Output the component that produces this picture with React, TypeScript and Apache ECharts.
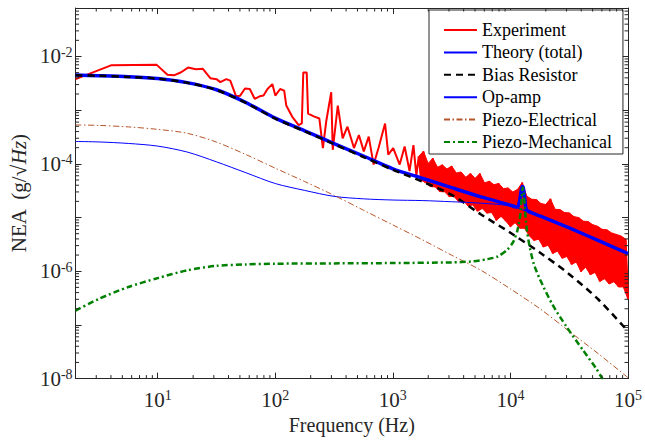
import React, { useEffect, useRef } from 'react';
import * as echarts from 'echarts';

const FONT = 'Liberation Serif, Times New Roman, serif';
const AXIS_COLOR = '#262626';

// Series names
const seriesNames = ['Experiment', 'Theory (total)', 'Bias Resistor', 'Op-amp', 'Piezo-Electrical', 'Piezo-Mechanical'];

// Common frequency grid (Hz) for the smooth model curves
const gridFreq = [2, 3.16, 5.62, 10, 17.8, 31.6, 56.2, 100, 178, 316, 562, 1000, 1778, 3162, 5623, 10000, 17783, 31623, 56234, 100000];

const biasResistor = [4.48e-3, 4.36e-3, 4.17e-3, 3.86e-3, 3.23e-3, 2.38e-3, 1.37e-3, 6.98e-4, 4.04e-4, 2.33e-4, 1.34e-4, 7.76e-5, 4.68e-5, 2.64e-5, 1.14e-5, 5.2e-6, 2.23e-6, 8.81e-7, 2.94e-7, 7.6e-8];
const opAmp = [2.61e-4, 2.56e-4, 2.4e-4, 2.14e-4, 1.66e-4, 1.09e-4, 6.84e-5, 4.3e-5, 3.2e-5, 2.48e-5, 2.23e-5, 2.12e-5, 2.07e-5, 1.97e-5, 1.85e-5, 1.63e-5, 1.05e-5, 6.3e-6, 3.65e-6, 2.1e-6];
const piezoElectrical = [5.31e-4, 5.2e-4, 4.88e-4, 4.39e-4, 3.71e-4, 2.54e-4, 1.49e-4, 8.3e-5, 4.68e-5, 2.59e-5, 1.37e-5, 7.28e-6, 3.86e-6, 1.99e-6, 1.04e-6, 4.68e-7, 2.01e-7, 7.6e-8, 2.88e-8, 1.04e-8];

// Theory (total)
const theoryFreq = [2, 3.16, 5.62, 10, 17.8, 31.6, 56.2, 100, 178, 316, 562, 1000, 1778, 3162, 5623, 10000, 11200, 11660, 12000, 12350, 12600, 12850, 13200, 13600, 14100, 17783, 31623, 56234, 100000];
const theory = [4.51e-3, 4.39e-3, 4.2e-3, 3.89e-3, 3.26e-3, 2.4e-3, 1.39e-3, 7.1e-4, 4.12e-4, 2.39e-4, 1.4e-4, 8.1e-5, 5.4e-5, 3.6e-5, 2.42e-5, 1.7e-5, 1.58e-5, 1.63e-5, 2.09e-5, 3.2e-5, 3.78e-5, 3.63e-5, 2.38e-5, 1.43e-5, 1.32e-5, 1.07e-5, 6.41e-6, 3.71e-6, 2.14e-6];

// Piezo-Mechanical
const pmFreq = [2, 3.16, 5.62, 10, 17.8, 31.6, 56.2, 100, 316, 1000, 3162, 4640, 6190, 7790, 9440, 10590, 11440, 12120, 12470, 12710, 12960, 13340, 13870, 14680, 15850, 17780, 22800, 29850, 41370, 53090, 60700, 77900];
const piezoMechanical = [1.85e-7, 3.06e-7, 5.08e-7, 7.45e-7, 1.04e-6, 1.26e-6, 1.34e-6, 1.38e-6, 1.4e-6, 1.42e-6, 1.46e-6, 1.52e-6, 1.66e-6, 1.88e-6, 2.54e-6, 3.55e-6, 5.65e-6, 1.11e-5, 2.38e-5, 3.63e-5, 2.94e-5, 1.26e-5, 5.42e-6, 2.64e-6, 1.34e-6, 7.13e-7, 2.38e-7, 9.38e-8, 3.4e-8, 1.59e-8, 1e-8, 5.1e-9];

// Experiment: low-frequency part
const expFreqLow = [2, 4, 9.8, 12.1, 13.9, 15.8, 18.1, 21.1, 24.2, 28.0, 31.6, 34.1, 38.3, 41.4, 46.4, 50.1, 55.2, 60.7, 66.8, 73.6, 79.4, 85.8, 94.4, 100, 110, 119, 124, 139, 158, 168, 173, 185, 190, 215, 237, 254, 271, 299, 308, 340, 374, 411, 467, 514, 566, 623, 686, 755, 858, 914, 1006, 1143, 1259, 1386, 1496, 1585];
const expValLow = [3.79e-3, 6.84e-3, 6.98e-3, 4.58e-3, 4.48e-3, 5.08e-3, 6.21e-3, 5.77e-3, 5.9e-3, 3.94e-3, 3.78e-3, 3.33e-3, 3.78e-3, 3.55e-3, 1.81e-3, 1.85e-3, 2.54e-3, 2.48e-3, 1.63e-3, 1.81e-3, 1.87e-3, 2.48e-3, 3.06e-3, 1.87e-3, 2.48e-3, 2.31e-3, 1.22e-3, 7.6e-4, 5.26e-4, 5.65e-4, 5.02e-3, 5.02e-3, 8.63e-4, 7.6e-4, 6.98e-4, 1.97e-4, 6.15e-4, 2.16e-3, 1.83e-4, 1.22e-3, 3.0e-4, 4.92e-4, 1.97e-4, 3.45e-4, 1.71e-4, 3.22e-4, 9.7e-5, 1.97e-4, 5.65e-4, 1.48e-4, 1.97e-4, 9.7e-5, 2.11e-4, 7.35e-5, 2.23e-4, 6.03e-5];

// Experiment: dense noisy high-frequency part (alternating peaks / troughs)
const expFreqHigh = [1660, 1738, 1820, 1905, 1995, 2089, 2188, 2291, 2399, 2512, 2630, 2754, 2884, 3020, 3162, 3311, 3467, 3631, 3802, 3981, 4169, 4365, 4571, 4786, 5012, 5248, 5495, 5754, 6026, 6310, 6607, 6918, 7244, 7586, 7943, 8318, 8710, 9120, 9550, 10000, 10470, 10960, 11480, 12020, 12590, 13180, 13800, 14450, 15140, 15850, 16600, 17380, 18200, 19050, 19950, 20890, 21880, 22910, 23990, 25120, 26300, 27540, 28840, 30200, 31620, 33110, 34670, 36310, 38020, 39810, 41690, 43650, 45710, 47860, 50120, 52480, 54950, 57540, 60260, 63100, 66070, 69180, 72440, 75860, 79430, 83180, 87100, 91200, 95500, 100000];
const expValHigh = [1.38e-4, 5.0e-5, 1.72e-4, 4.4e-5, 1.02e-4, 3.78e-5, 1.27e-4, 3.72e-5, 8.65e-5, 3.05e-5,
  9.57e-5, 3.01e-5, 8.02e-5, 2.46e-5, 9.08e-5, 2.47e-5, 6.75e-5, 1.97e-5, 7.06e-5, 2.06e-5,
  5.62e-5, 1.64e-5, 6.61e-5, 1.72e-5, 5.38e-5, 1.31e-5, 6.62e-5, 1.47e-5, 4.41e-5, 1.21e-5,
  4.76e-5, 1.24e-5, 4.08e-5, 8.87e-6, 4.32e-5, 1.05e-5, 3.46e-5, 8.61e-6, 3.56e-5, 6.75e-6,
  3.0e-5, 8.04e-6, 3.33e-5, 6.31e-6, 4.48e-5, 6.31e-6, 2.49e-5, 4.57e-6, 2.2e-5, 3.75e-6,
  2.16e-5, 3.95e-6, 1.82e-5, 2.82e-6, 1.75e-5, 3.06e-6, 2.23e-5, 2.14e-6, 1.42e-5, 2.37e-6,
  1.41e-5, 1.74e-6, 1.24e-5, 1.88e-6, 1.22e-5, 1.34e-6, 1.04e-5, 1.48e-6, 1.0e-5, 9.82e-7,
  8.57e-6, 1.19e-6, 8.41e-6, 8.63e-7, 7.36e-6, 9.51e-7, 6.9e-6, 6.44e-7, 6.03e-6, 7.26e-7,
  5.92e-6, 5.79e-7, 5.18e-6, 6.38e-7, 4.85e-6, 5.08e-7, 4.54e-6, 5.11e-7, 3.97e-6, 3.02e-7];

// Axis ranges and minor tick positions
const xMin = 2;
const xMax = 1e5;
const yMin = 1e-8;
const yMax = 0.08;
const xMinorTicks = [3, 4, 5, 6, 7, 8, 9, 20, 30, 40, 50, 60, 70, 80, 90, 200, 300, 400, 500, 600, 700, 800, 900, 2000, 3000, 4000, 5000, 6000, 7000, 8000, 9000, 20000, 30000, 40000, 50000, 60000, 70000, 80000, 90000];
const yMinorTicks = [
  2e-8, 3e-8, 4e-8, 5e-8, 6e-8, 7e-8, 8e-8, 9e-8,
  2e-7, 3e-7, 4e-7, 5e-7, 6e-7, 7e-7, 8e-7, 9e-7,
  2e-6, 3e-6, 4e-6, 5e-6, 6e-6, 7e-6, 8e-6, 9e-6,
  2e-5, 3e-5, 4e-5, 5e-5, 6e-5, 7e-5, 8e-5, 9e-5,
  2e-4, 3e-4, 4e-4, 5e-4, 6e-4, 7e-4, 8e-4, 9e-4,
  2e-3, 3e-3, 4e-3, 5e-3, 6e-3, 7e-3, 8e-3, 9e-3,
  2e-2, 3e-2, 4e-2, 5e-2, 6e-2, 7e-2];

const zip = (xs: number[], ys: number[]) => xs.map((x, i) => [x, ys[i]]);

const powLabel = (evenOnly: boolean) => (v: number) => {
  const l = Math.log10(v);
  const e = Math.round(l);
  if (Math.abs(l - e) > 1e-6) return '';
  if (evenOnly && e % 2 !== 0) return '';
  return `{b|10}{s|${e}}`;
};

const labelRich = {
  b: { fontFamily: FONT, fontSize: 21, color: AXIS_COLOR, lineHeight: 22 },
  s: { fontFamily: FONT, fontSize: 14, color: AXIS_COLOR, verticalAlign: 'top', lineHeight: 12 },
};

export default function App() {
  const ref = useRef<HTMLDivElement>(null);
  useEffect(() => {
    if (!ref.current) return;
    const chart = echarts.init(ref.current, null, { renderer: 'svg' });
    const baseX = {
      type: 'log', logBase: 10, min: xMin, max: xMax,
      axisLine: { show: true, onZero: false, lineStyle: { color: AXIS_COLOR, width: 1 } },
      axisTick: { show: true, inside: true, length: 6, lineStyle: { color: AXIS_COLOR } },
      splitLine: { show: false },
    };
    const baseY = {
      type: 'log', logBase: 10, min: yMin, max: yMax,
      axisLine: { show: true, onZero: false, lineStyle: { color: AXIS_COLOR, width: 1 } },
      axisTick: { show: true, inside: true, length: 6, lineStyle: { color: AXIS_COLOR } },
      splitLine: { show: false },
    };
    const option: any = {
      animation: false,
      backgroundColor: '#ffffff',
      textStyle: { fontFamily: FONT },
      grid: { left: 69, right: 12, top: 8, bottom: 56, containLabel: false },
      legend: {
        data: seriesNames,
        orient: 'vertical',
        left: 429,
        top: 10,
        backgroundColor: '#ffffff',
        borderColor: AXIS_COLOR,
        borderWidth: 1,
        borderRadius: 0,
        padding: [11, 11, 3, 14],
        itemWidth: 33,
        itemHeight: 4,
        itemGap: 4.4,
        itemStyle: { opacity: 0 },
        textStyle: { fontFamily: FONT, fontSize: 18, color: '#000' },
      },
      xAxis: [
        {
          ...baseX, position: 'bottom',
          axisLabel: { show: true, margin: 10, formatter: powLabel(false), rich: labelRich },
          name: 'Frequency (Hz)', nameLocation: 'middle', nameGap: 33,
          nameTextStyle: { fontFamily: FONT, fontSize: 20, color: AXIS_COLOR },
        },
        { ...baseX, position: 'top', axisLabel: { show: false } },
      ],
      yAxis: [
        {
          ...baseY, position: 'left',
          axisLabel: { show: true, margin: 3, formatter: powLabel(true), rich: labelRich },
          name: '{n|NEA  (g/√}{i|Hz}{n|)}', nameLocation: 'middle', nameGap: 39, nameRotate: 90,
          nameTextStyle: {
            color: AXIS_COLOR,
            rich: {
              n: { fontFamily: FONT, fontSize: 21, color: AXIS_COLOR },
              i: { fontFamily: FONT, fontSize: 21, color: AXIS_COLOR, fontStyle: 'italic' },
            },
          },
        },
        { ...baseY, position: 'right', axisLabel: { show: false } },
      ],
      series: [
        {
          type: 'custom', silent: true, clip: true, z: 2,
          data: [[expFreqHigh[0], expValHigh[0]]],
          encode: { x: 0, y: 1 },
          renderItem: (params: any, api: any) => {
            const top: number[][] = [];
            const bottom: number[][] = [];
            expFreqHigh.forEach((f, i) => {
              const p = api.coord([f, expValHigh[i]]);
              if (i % 2 === 0) top.push(p); else bottom.push(p);
            });
            return {
              type: 'polygon',
              shape: { points: [...top, ...bottom.reverse()] },
              style: { fill: '#ff0000', stroke: '#ff0000', lineWidth: 1 },
            };
          },
        },
        {
          name: 'Experiment', type: 'line', symbol: 'none', showSymbol: false,
          data: [...zip(expFreqLow, expValLow), ...zip(expFreqHigh, expValHigh)],
          lineStyle: { color: '#ff0000', width: 2 }, itemStyle: { color: '#ff0000' },
          z: 2,
        },
        {
          name: 'Theory (total)', type: 'line', symbol: 'none', showSymbol: false, smooth: 0.25,
          data: zip(theoryFreq, theory),
          lineStyle: { color: '#0000ff', width: 3.5 }, itemStyle: { color: '#0000ff' },
          z: 3,
        },
        {
          name: 'Bias Resistor', type: 'line', symbol: 'none', showSymbol: false, smooth: 0.3,
          data: zip(gridFreq, biasResistor),
          lineStyle: { color: '#000000', width: 2.5, type: [7, 5] }, itemStyle: { color: '#000000' },
          z: 4,
        },
        {
          name: 'Op-amp', type: 'line', symbol: 'none', showSymbol: false, smooth: 0.3,
          data: zip(gridFreq, opAmp),
          lineStyle: { color: '#0000ff', width: 1 }, itemStyle: { color: '#0000ff' },
          z: 4,
        },
        {
          name: 'Piezo-Electrical', type: 'line', symbol: 'none', showSymbol: false, smooth: 0.3,
          data: zip(gridFreq, piezoElectrical),
          lineStyle: { color: '#b5562a', width: 1, type: [6, 2.5, 1.5, 2.5] }, itemStyle: { color: '#b5562a' },
          z: 4,
        },
        {
          name: 'Piezo-Mechanical', type: 'line', symbol: 'none', showSymbol: false, smooth: 0.25,
          data: zip(pmFreq, piezoMechanical),
          lineStyle: { color: '#008000', width: 2.5, type: [6, 3, 2, 3] }, itemStyle: { color: '#008000' },
          z: 5,
        },
        {
          type: 'custom', silent: true, clip: false, z: 6,
          data: xMinorTicks.map((v) => [v, yMin]),
          encode: { x: 0, y: 1 },
          renderItem: (params: any, api: any) => {
            const p = api.coord([api.value(0), yMin]);
            const cs = params.coordSys;
            const st = { stroke: AXIS_COLOR, lineWidth: 1 };
            return {
              type: 'group',
              children: [
                { type: 'line', shape: { x1: p[0], y1: cs.y + cs.height, x2: p[0], y2: cs.y + cs.height - 3.5 }, style: st },
                { type: 'line', shape: { x1: p[0], y1: cs.y, x2: p[0], y2: cs.y + 3.5 }, style: st },
              ],
            };
          },
        },
        {
          type: 'custom', silent: true, clip: false, z: 6,
          data: yMinorTicks.map((v) => [xMin, v]),
          encode: { x: 0, y: 1 },
          renderItem: (params: any, api: any) => {
            const p = api.coord([xMin, api.value(1)]);
            const cs = params.coordSys;
            const st = { stroke: AXIS_COLOR, lineWidth: 1 };
            return {
              type: 'group',
              children: [
                { type: 'line', shape: { x1: cs.x, y1: p[1], x2: cs.x + 3.5, y2: p[1] }, style: st },
                { type: 'line', shape: { x1: cs.x + cs.width, y1: p[1], x2: cs.x + cs.width - 3.5, y2: p[1] }, style: st },
              ],
            };
          },
        },
      ],
    };
    chart.setOption(option);
    return () => chart.dispose();
  }, []);
  return (
    <div
      ref={ref}
      style={{ position: 'absolute', left: 0, top: 0, width: 645, height: 440, background: '#ffffff' }}
    />
  );
}
